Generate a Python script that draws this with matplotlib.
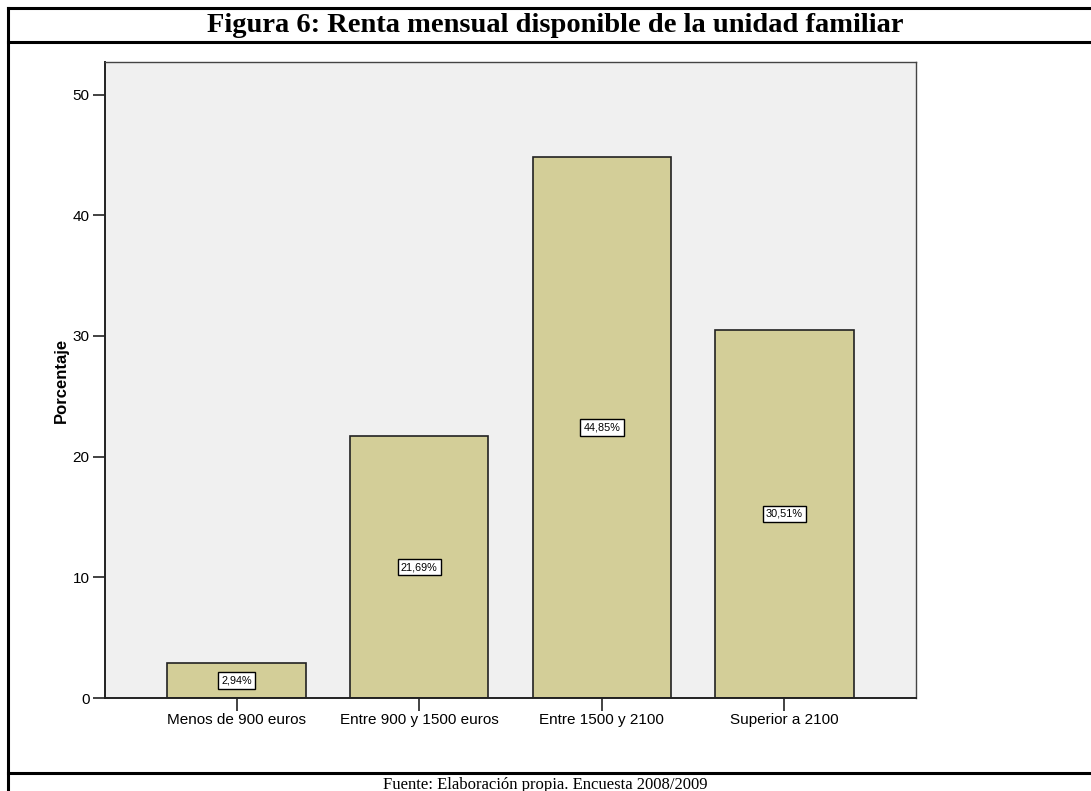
import matplotlib.pyplot as plt
from matplotlib.lines import Line2D

categories = ["Menos de 900 euros", "Entre 900 y 1500 euros", "Entre 1500 y 2100", "Superior a 2100"]
percentages = [2.94, 21.69, 44.85, 30.51]
labels = ["2,94%", "21,69%", "44,85%", "30,51%"]

W, H = 1091, 791
fig = plt.figure(figsize=(W / 100, H / 100), dpi=100)

# outer frame lines (pixel coords -> figure fraction)
def hline(y, x0=8, x1=W):
    fig.add_artist(Line2D([x0 / W, x1 / W], [1 - y / H, 1 - y / H], color="black", lw=2.2))

hline(8)
hline(42)
hline(773)
fig.add_artist(Line2D([8 / W, 8 / W], [0, 1 - 8 / H], color="black", lw=2.2))

fig.text(555 / W, 1 - 26 / H, "Figura 6: Renta mensual disponible de la unidad familiar",
         ha="center", va="center", fontsize=20.5, fontweight="bold", family="Liberation Serif")
fig.text(545 / W, 1 - 785 / H, "Fuente: Elaboración propia. Encuesta 2008/2009",
         ha="center", va="center", fontsize=12, family="Liberation Serif")

ax = fig.add_axes([105 / W, 1 - 698 / H, (916 - 105) / W, (698 - 62) / H])
ax.set_facecolor("#f0f0f0")
x = range(len(categories))
ax.bar(x, percentages, width=0.756, color="#d3ce98", edgecolor="#222222", linewidth=1.2, zorder=2)
for i, (v, lab) in enumerate(zip(percentages, labels)):
    ax.text(i, v / 2, lab, ha="center", va="center", fontsize=7.8, family="Liberation Sans",
            bbox=dict(boxstyle="square,pad=0.3", fc="white", ec="black", lw=1), zorder=3)

ax.set_xlim(-0.72, 3.72)
ax.set_ylim(0, 52.7)
ax.set_yticks([0, 10, 20, 30, 40, 50])
ax.set_xticks(list(x))
ax.set_xticklabels(categories, family="Liberation Sans", fontsize=11)
for t in ax.get_yticklabels():
    t.set_family("Liberation Sans")
    t.set_fontsize(11)
ax.tick_params(axis="both", direction="out", length=9, width=1.2, color="#222222", pad=2)
ax.set_ylabel("Porcentaje", fontsize=12, fontweight="bold", family="Liberation Sans")
ax.yaxis.set_label_coords(-0.045, 0.5)
for side in ["left", "bottom"]:
    ax.spines[side].set_linewidth(1.4)
    ax.spines[side].set_color("#222222")
for side in ["top", "right"]:
    ax.spines[side].set_linewidth(1.0)
    ax.spines[side].set_color("#444444")

fig.savefig("out.png", dpi=100)
